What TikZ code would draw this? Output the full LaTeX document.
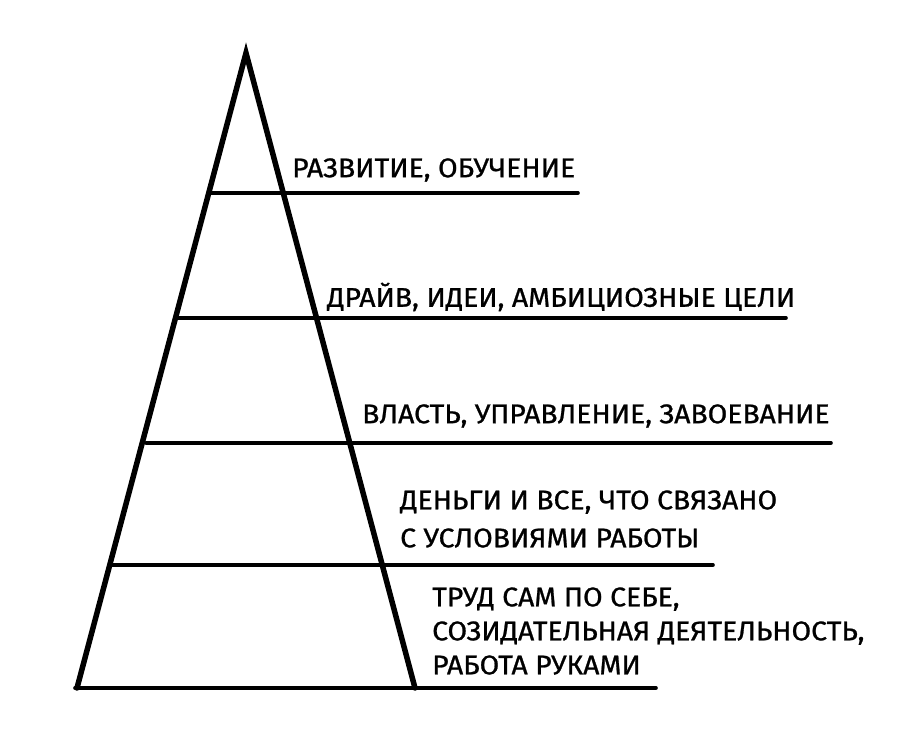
\documentclass[tikz,border=0pt]{standalone}
\usepackage{fontspec}
\setmainfont{Fira Sans}[FakeStretch=1.05,FakeBold=0.9]
\begin{document}
\begin{tikzpicture}[x=1pt,y=-1pt,
  side/.style={line width=5.5pt,line cap=round,line join=miter},
  level/.style={line width=3.6pt,line cap=round},
  lbl/.style={anchor=west,inner sep=0pt,align=left,font=\fontsize{27}{38}\selectfont}]
\useasboundingbox (0,0) rectangle (922,745);
% pyramid corners
\coordinate (apex) at (246,53);
\coordinate (bl) at (77,688);
\coordinate (br) at (415,688);
\draw[side] (bl) -- (apex) -- (br);
% level lines
\coordinate (l1a) at (210,193); \coordinate (l1b) at (578,193);
\coordinate (l2a) at (178,318); \coordinate (l2b) at (786,318);
\coordinate (l3a) at (146,443); \coordinate (l3b) at (831,443);
\coordinate (l4a) at (112,565); \coordinate (l4b) at (713,565);
\coordinate (l5a) at (75,688);  \coordinate (l5b) at (656,688);
\draw[level] (l1a) -- (l1b);
\draw[level] (l2a) -- (l2b);
\draw[level] (l3a) -- (l3b);
\draw[level] (l4a) -- (l4b);
\draw[level] (l5a) -- (l5b);
% labels
\node[lbl] (t1) at (292,170) {РАЗВИТИЕ, ОБУЧЕНИЕ};
\node[lbl] (t2) at (327,297) {ДРАЙВ, ИДЕИ, АМБИЦИОЗНЫЕ ЦЕЛИ};
\node[lbl] (t3) at (362,416) {ВЛАСТЬ, УПРАВЛЕНИЕ, ЗАВОЕВАНИЕ};
\node[lbl] (t4) at (400,519) {ДЕНЬГИ И ВСЕ, ЧТО СВЯЗАНО\\С УСЛОВИЯМИ РАБОТЫ};
\node[lbl,font=\fontsize{27}{34}\selectfont] (t5) at (432,631) {ТРУД САМ ПО СЕБЕ,\\СОЗИДАТЕЛЬНАЯ ДЕЯТЕЛЬНОСТЬ,\\РАБОТА РУКАМИ};
\end{tikzpicture}
\end{document}
